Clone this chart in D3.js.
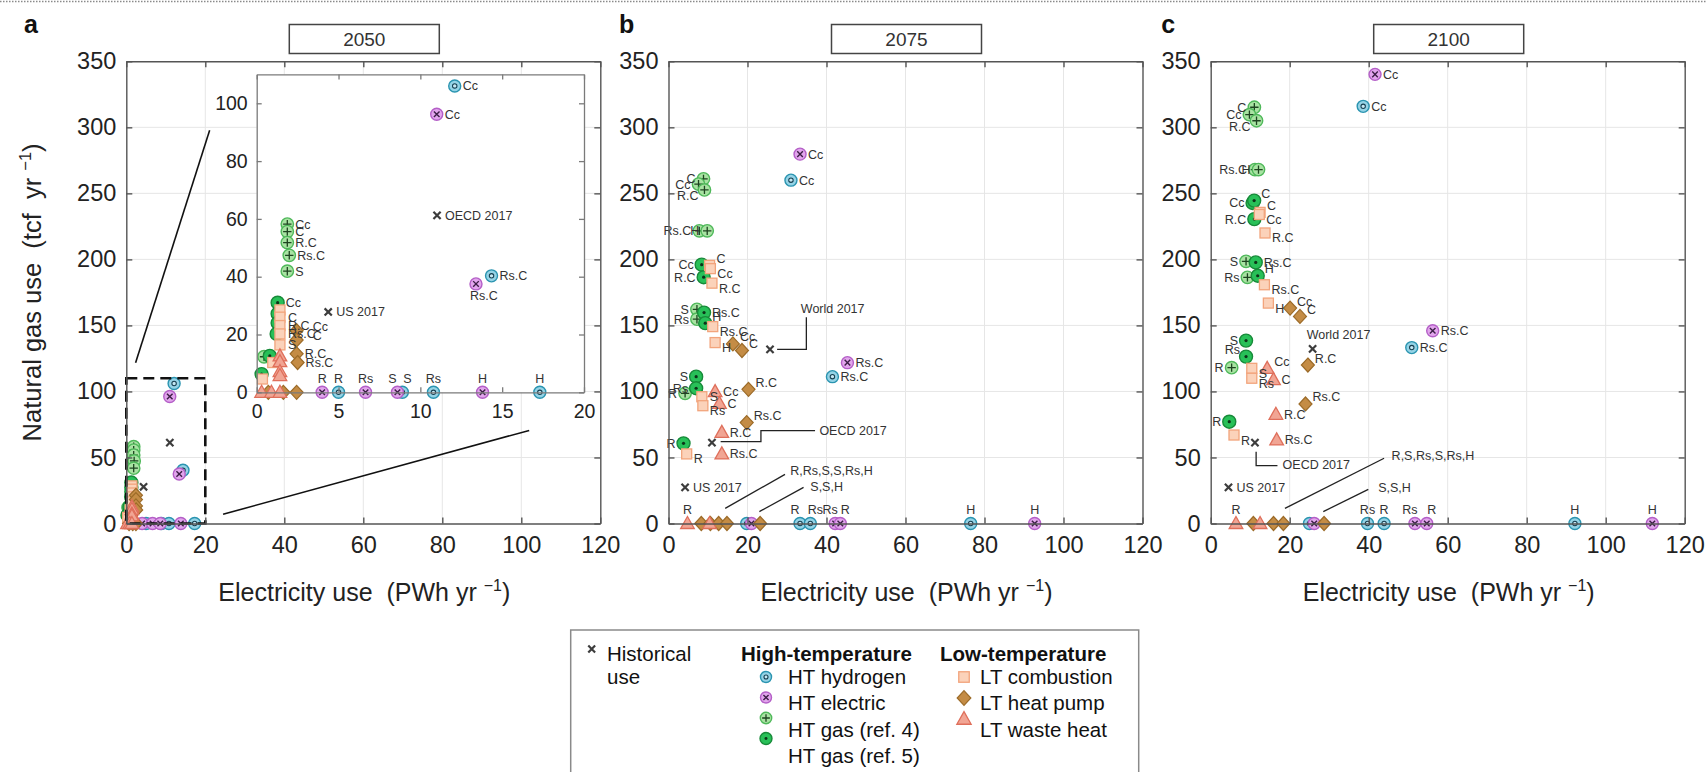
<!DOCTYPE html>
<html>
<head>
<meta charset="utf-8">
<script src="https://cdn.jsdelivr.net/npm/d3@7/dist/d3.min.js"></script>
<style>
  html, body { margin: 0; padding: 0; background: #fff; }
  svg text { font-family: "Liberation Sans", Arial, Helvetica, sans-serif; white-space: pre; }
</style>
</head>
<body>
<svg id="fig" width="1707" height="772"></svg>
<script>
// ---------------------------------------------------------------
// Values: [electricity use (PWh/yr), natural gas use (tcf/yr), label]
// ---------------------------------------------------------------
const years = ['2050', '2075', '2100'];
const panelLetters = ['a', 'b', 'c'];
const xTicks = [0, 20, 40, 60, 80, 100, 120];
const yTicks = [0, 50, 100, 150, 200, 250, 300, 350];
const insetXTicks = [0, 5, 10, 15, 20];
const insetYTicks = [0, 20, 40, 60, 80, 100];

// 2050
const hydrogen2050   = [[12.1,106,'Cc'],[14.35,40.3,'Rs.C'],[5.0,0,'R'],[8.9,0,'S'],[10.8,0,'Rs'],[17.3,0,'H']];
const electric2050   = [[11.0,96.2,'Cc'],[13.4,37.5,'Rs.C'],[4.0,0,'R'],[6.65,0,'Rs'],[8.6,0,'S'],[13.8,0,'H']];
const gasRef4_2050   = [[1.87,58.2,'Cc'],[1.87,55.6,'C'],[1.87,51.8,'R.C'],[1.99,47.4,'Rs.C'],[1.87,41.9,'S'],[0.45,12.3,'']];
const gasRef5_2050   = [[1.28,31,'Cc'],[1.28,27.2,''],[1.28,24,''],[1.22,20.2,''],[0.8,12.6,''],[0.3,6.3,'']];
const combustion2050 = [[1.42,28.5,''],[1.42,26,'C'],[1.42,23.1,'R.C'],[1.42,20.2,'Rs.C'],[1.42,16.4,'S'],[0.98,10.3,''],[0.35,4.6,'']];
const heatPump2050   = [[2.44,21.3,'Cc'],[2.44,18.1,'C'],[2.44,13.3,'R.C'],[2.5,10.3,'Rs.C'],[0.71,0,''],[1.63,0,''],[2.44,0,'']];
const wasteHeat2050  = [[1.42,12.6,''],[1.42,10.6,''],[1.42,7.2,''],[1.42,5.8,''],[0.3,0,''],[0.9,0,''],[1.42,0,'']];
const historical2050 = [[4.37,27.8,'US 2017'],[11.02,61.2,'OECD 2017']];

// 2075
const hydrogen2075   = [[31.0,260,'Cc'],[41.5,111.2,'Rs.C'],[19.8,0,''],[33.3,0,'R'],[35.9,0,'Rs'],[76.5,0,'H']];
const electric2075   = [[33.3,279.7,'Cc'],[45.3,121.8,'Rs.C'],[21.0,0,''],[42.2,0,'Rs'],[43.5,0,'R'],[92.7,0,'H']];
const gasRef4_2075   = [[8.86,261,'C'],[7.6,257,'Cc'],[9.1,252.6,'R.C'],[7.8,221.6,'Rs.C'],[9.8,221.6,'H'],[7.2,162.2,'S'],[7.2,154.7,'Rs'],[4.2,98.6,'R']];
const gasRef5_2075   = [[8.4,196,'Cc'],[8.9,186.5,'R.C'],[9.0,159.7,'Rs.C'],[9.3,151.7,'H'],[7.0,111.2,'S'],[7.0,102.4,'Rs'],[3.8,60.7,'R']];
const combustion2075 = [[10.4,195.5,'C'],[10.6,193,'Cc'],[11.0,182,'R.C'],[11.2,149.1,'Rs.C'],[11.8,137,'H'],[8.44,96,'S'],[8.7,89.2,'Rs'],[4.6,52.7,'R']];
const heatPump2075   = [[16.3,136,'Cc'],[18.6,131,'C'],[20.25,101.6,'R.C'],[19.8,76.4,'Rs.C'],[8.3,0,''],[10.6,0,''],[12.7,0,''],[14.8,0,''],[23.2,0,'']];
const wasteHeat2075  = [[11.8,99.9,'Cc'],[12.9,91,'C'],[13.5,69,'R.C'],[13.5,52.7,'Rs.C'],[4.8,0,'R'],[10.4,0,'']];
const historical2075 = [[25.7,131.9,'World 2017'],[11.0,61.2,'OECD 2017'],[4.2,27.4,'US 2017']];

// 2100
const hydrogen2100   = [[38.6,315.9,'Cc'],[50.9,133.2,'Rs.C'],[25.0,0,''],[39.7,0,'Rs'],[43.9,0,'R'],[92.2,0,'H']];
const electric2100   = [[41.6,340.1,'Cc'],[56.2,146,'Rs.C'],[26.2,0,''],[51.7,0,'Rs'],[54.7,0,'R'],[111.8,0,'H']];
const gasRef4_2100   = [[11.05,315.2,'C'],[9.8,309.6,'Cc'],[11.6,305,'R.C'],[11.2,268,'Rs.C'],[12.1,268,'H'],[8.95,198.5,'S'],[9.3,186.4,'Rs'],[5.3,118,'R']];
const gasRef5_2100   = [[10.6,242.7,'Cc'],[11.0,244.5,'C'],[11.05,230.5,'R.C'],[11.4,197.7,'Rs.C'],[11.9,187.6,'H'],[8.95,138.5,'S'],[8.95,126.4,'Rs'],[4.7,77.1,'R']];
const combustion2100 = [[12.5,235.6,'C'],[12.3,234,'Cc'],[13.75,220,'R.C'],[13.6,180.8,'Rs.C'],[14.6,166.9,'H'],[10.4,117.5,'S'],[10.4,110,'Rs'],[5.9,67,'R']];
const heatPump2100   = [[20.1,163.1,'Cc'],[22.6,156.8,'C'],[24.6,120,'R.C'],[24.0,90.5,'Rs.C'],[10.8,0,''],[15.9,0,''],[18.4,0,''],[28.7,0,'']];
const wasteHeat2100  = [[14.3,117.5,'Cc'],[15.9,109,'C'],[16.5,82.7,'R.C'],[16.7,63.3,'Rs.C'],[6.4,0,'R'],[12.5,0,'']];
const historical2100 = [[25.8,132.2,'World 2017'],[11.2,61.2,'OECD 2017'],[4.5,27.4,'US 2017']];

// Grouped labels for crowded points on the x axis
const groupLabels2075 = ['R,Rs,S,S,Rs,H', 'S,S,H'];
const groupLabels2100 = ['R,S,Rs,S,Rs,H', 'S,S,H'];

// ---------------------------------------------------------------
// Label placement (side of each point label) and callout geometry
// ---------------------------------------------------------------
const sides2050 = {
  hydrogen: ['r','r','t','tr','t','t'],
  electric: ['r','b','t','t','tl','t'],
  heatPump: ['r2','r2','r','r'],
};
const sides2075 = {
  hydrogen: ['r','r','t','tl','tr','t'],
  electric: ['r','r','t','tl','tr','t'],
  gasRef4: ['l','l','ld','l','l','l','l','l'],
  gasRef5: ['l','l','r','ru','l','l','l'],
  combustion: ['ru','rd','rd','rd','rd','r','rd','rd'],
  heatPump: ['ru','ru','ru','ru'],
  wasteHeat: ['r','r','r','r','t'],
  historical: ['callout','callout','r'],
};
const sides2100 = {
  hydrogen: ['r','r','t','t','t','t'],
  electric: ['r','r','t','tl','tr','t'],
  gasRef4: ['l','l','ld','l','l','l','l','l'],
  gasRef5: ['l','ru','l','r','ru','l','lu','l'],
  combustion: ['ru','rd','rd','rd','rd','rd','rd','rd'],
  heatPump: ['ru','ru','ru','ru'],
  wasteHeat: ['ru','r','r','r','t'],
  historical: ['callout','callout','r'],
};
// leader lines in data units: path points and text start [x, y-centre]
const callouts2075 = [
  { text: historical2075[0][2], path: [[27.5,131.9],[34.9,131.9],[34.9,156.2]], at: [33.5,163] },
  { text: historical2075[1][2], path: [[13.2,62],[23.4,62],[23.4,70.3],[37.1,70.3]], at: [38.2,70.3] },
  { text: groupLabels2075[0], path: [[14.35,11.5],[29.5,37.2]], at: [30.8,40] },
  { text: groupLabels2075[1], path: [[23.0,9],[34.2,27.4]], at: [35.9,27.9] },
];
const callouts2100 = [
  { text: historical2100[0][2], path: [], at: [24.3,142.8] },
  { text: historical2100[1][2], path: [[11.5,54.4],[11.5,43.8],[16.9,43.8]], at: [18.2,44.6] },
  { text: groupLabels2100[0], path: [[18.8,11.5],[43.9,49.4]], at: [45.8,51.1] },
  { text: groupLabels2100[1], path: [[28.5,9],[39.9,25.9]], at: [42.4,27.2] },
];

const panels = [
  { year: years[0], letter: panelLetters[0], inset: true, sides: sides2050, callouts: [],
    series: { hydrogen: hydrogen2050, electric: electric2050, gasRef4: gasRef4_2050, gasRef5: gasRef5_2050,
              combustion: combustion2050, heatPump: heatPump2050, wasteHeat: wasteHeat2050, historical: historical2050 } },
  { year: years[1], letter: panelLetters[1], inset: false, sides: sides2075, callouts: callouts2075,
    series: { hydrogen: hydrogen2075, electric: electric2075, gasRef4: gasRef4_2075, gasRef5: gasRef5_2075,
              combustion: combustion2075, heatPump: heatPump2075, wasteHeat: wasteHeat2075, historical: historical2075 } },
  { year: years[2], letter: panelLetters[2], inset: false, sides: sides2100, callouts: callouts2100,
    series: { hydrogen: hydrogen2100, electric: electric2100, gasRef4: gasRef4_2100, gasRef5: gasRef5_2100,
              combustion: combustion2100, heatPump: heatPump2100, wasteHeat: wasteHeat2100, historical: historical2100 } },
];
const seriesOrder = ['hydrogen','electric','gasRef4','gasRef5','combustion','heatPump','wasteHeat','historical'];

// ---------------------------------------------------------------
// Layout
// ---------------------------------------------------------------
const W = 1707, H = 772;
const L = { left0: 126.3, step: 542.2, width: 474, top: 61.3, bottom: 523.5 };
const insetBox = { left: 256.7, right: 584, top: 74.4, bottom: 392.3 };
const insetDomainX = [0, 20], insetDomainY = [0, 110];
const zoomConnectors = [[[2.35,121.8],[21.1,297.7]], [[24.5,7],[102,70.5]]];
const FONT = '"Liberation Sans", Arial, Helvetica, sans-serif';

const labelOffsets = {
  r:  { dx: 8,  dy: 4.5, anchor: 'start' },
  r2: { dx: 16, dy: 0,   anchor: 'start' },
  ru: { dx: 7,  dy: -2.5, anchor: 'start' },
  rd: { dx: 7,  dy: 9.5, anchor: 'start' },
  l:  { dx: -8, dy: 4.5, anchor: 'end' },
  lu: { dx: -6, dy: -2.5, anchor: 'end' },
  ld: { dx: -6, dy: 10,  anchor: 'end' },
  t:  { dx: 0,  dy: -9.5, anchor: 'middle' },
  tl: { dx: -5, dy: -9.5, anchor: 'middle' },
  tr: { dx: 5,  dy: -9.5, anchor: 'middle' },
  b:  { dx: 8,  dy: 16.5, anchor: 'middle' },
};

const svg = d3.select('#fig');

// dotted rule along the top edge
svg.append('line').attr('x1', 0).attr('x2', W).attr('y1', 1.5).attr('y2', 1.5)
  .attr('stroke', '#8a8a8a').attr('stroke-width', 1.5).attr('stroke-dasharray', '1.5,1.5');

// ---------------------------------------------------------------
// Marker glyphs
// ---------------------------------------------------------------
function drawMarker(g, type, k = 1) {
  switch (type) {
    case 'hydrogen':
      g.append('circle').attr('r', 6 * k).attr('fill', '#94d3e6').attr('stroke', '#2a94b0').attr('stroke-width', 1.4);
      g.append('circle').attr('r', 2.2 * k).attr('fill', '#c4e8f3').attr('stroke', '#163f50').attr('stroke-width', 1.1);
      break;
    case 'electric': {
      g.append('circle').attr('r', 6 * k).attr('fill', '#e2a5ed').attr('stroke', '#b45fc7').attr('stroke-width', 1.4);
      const a = 2.8 * k;
      g.append('path').attr('d', `M${-a},${-a}L${a},${a}M${-a},${a}L${a},${-a}`)
        .attr('stroke', '#3b1e45').attr('stroke-width', 1.4);
      break;
    }
    case 'gasRef4': {
      g.append('circle').attr('r', 6.2 * k).attr('fill', '#a8e3a2').attr('stroke', '#4fb85a').attr('stroke-width', 1.4);
      const a = 4.2 * k;
      g.append('path').attr('d', `M${-a},0H${a}M0,${-a}V${a}`).attr('stroke', '#1d4420').attr('stroke-width', 1.3);
      break;
    }
    case 'gasRef5':
      g.append('circle').attr('r', 6.5 * k).attr('fill', '#28c058').attr('stroke', '#178a39').attr('stroke-width', 1.4);
      g.append('circle').attr('r', 1.6 * k).attr('fill', '#0c3318');
      break;
    case 'combustion':
      g.append('rect').attr('x', -5 * k).attr('y', -5 * k).attr('width', 10 * k).attr('height', 10 * k)
        .attr('fill', '#fbd2ba').attr('stroke', '#f2a47c').attr('stroke-width', 1.3);
      break;
    case 'heatPump':
      g.append('path').attr('d', `M0,${-7*k}L${6.5*k},0L0,${7*k}L${-6.5*k},0Z`)
        .attr('fill', '#c48c45').attr('stroke', '#9c6b28').attr('stroke-width', 1.2);
      break;
    case 'wasteHeat':
      g.append('path').attr('d', `M0,${-7*k}L${6.8*k},${5*k}L${-6.8*k},${5*k}Z`)
        .attr('fill', '#f1a594').attr('stroke', '#df6f5b').attr('stroke-width', 1.3);
      break;
    case 'historical': {
      const a = 3.6 * k;
      g.append('path').attr('d', `M${-a},${-a}L${a},${a}M${-a},${a}L${a},${-a}`)
        .attr('stroke', '#3d3d3d').attr('stroke-width', 2.2);
      break;
    }
  }
}

function drawSeries(g, p, x, y, withLabels) {
  const mg = g.append('g');
  seriesOrder.forEach(key => {
    mg.append('g').selectAll('g').data(p.series[key]).join('g')
      .attr('transform', d => `translate(${x(d[0])},${y(d[1])})`)
      .each(function () { drawMarker(d3.select(this), key); });
  });
  if (!withLabels) return;
  const lg = g.append('g').attr('font-size', 12.5).attr('fill', '#333');
  seriesOrder.forEach(key => {
    const sides = p.sides[key] || [];
    const items = p.series[key].map((d, j) => ({ d, side: sides[j] || 'r' }))
      .filter(o => o.d[2] && o.side !== 'callout');
    lg.append('g').selectAll('text').data(items).join('text')
      .attr('x', o => x(o.d[0]) + labelOffsets[o.side].dx)
      .attr('y', o => y(o.d[1]) + labelOffsets[o.side].dy)
      .attr('text-anchor', o => labelOffsets[o.side].anchor)
      .text(o => o.d[2]);
  });
}

// box axes with inward ticks on all four sides
function boxAxes(g, x, y, xt, yt, o) {
  const [x0, x1] = x.range(), [y0, y1] = y.range();
  const style = sel => {
    sel.attr('color', o.color).attr('font-family', FONT).attr('font-size', o.fs);
    sel.selectAll('path.domain').attr('stroke-width', o.sw);
    sel.selectAll('.tick line').attr('stroke-width', o.sw);
    sel.selectAll('text').attr('fill', '#222');
  };
  g.append('g').attr('transform', `translate(0,${y0})`)
    .call(d3.axisBottom(x).tickValues(xt).tickSize(-o.tick).tickSizeOuter(0).tickPadding(o.padX)).call(style);
  g.append('g').attr('transform', `translate(0,${y1})`)
    .call(d3.axisTop(x).tickValues(xt).tickSize(-o.tick).tickSizeOuter(0).tickFormat(() => '')).call(style);
  g.append('g').attr('transform', `translate(${x0},0)`)
    .call(d3.axisLeft(y).tickValues(yt).tickSize(-o.tick).tickSizeOuter(0).tickPadding(o.padY)).call(style);
  g.append('g').attr('transform', `translate(${x1},0)`)
    .call(d3.axisRight(y).tickValues(yt).tickSize(-o.tick).tickSizeOuter(0).tickFormat(() => '')).call(style);
}

function addUnitTitle(sel, base, supSize) {
  sel.append('tspan').text(base);
  sel.append('tspan').attr('font-size', supSize).attr('dy', -10).text('−1');
  sel.append('tspan').attr('dy', 10).text(')');
}

// ---------------------------------------------------------------
// Panels
// ---------------------------------------------------------------
panels.forEach((p, i) => {
  const left = L.left0 + i * L.step;
  const x = d3.scaleLinear().domain([xTicks[0], xTicks[xTicks.length - 1]]).range([left, left + L.width]);
  const y = d3.scaleLinear().domain([yTicks[0], yTicks[yTicks.length - 1]]).range([L.bottom, L.top]);
  const g = svg.append('g');

  // grid
  g.append('g').selectAll('line').data(xTicks.slice(1, -1)).join('line')
    .attr('x1', d => x(d)).attr('x2', d => x(d)).attr('y1', L.top).attr('y2', L.bottom)
    .attr('stroke', '#e6e6e6').attr('stroke-width', 1);
  g.append('g').selectAll('line').data(yTicks.slice(1, -1)).join('line')
    .attr('x1', left).attr('x2', left + L.width).attr('y1', d => y(d)).attr('y2', d => y(d))
    .attr('stroke', '#e6e6e6').attr('stroke-width', 1);

  drawSeries(g, p, x, y, !p.inset);

  // callouts with leader lines
  const cg = g.append('g');
  p.callouts.forEach(c => {
    if (c.path.length) {
      cg.append('path').attr('d', d3.line().x(d => x(d[0])).y(d => y(d[1]))(c.path))
        .attr('fill', 'none').attr('stroke', '#222').attr('stroke-width', 1.3);
    }
    cg.append('text').attr('x', x(c.at[0])).attr('y', y(c.at[1])).attr('dy', '0.35em')
      .attr('font-size', 12.5).attr('fill', '#333').text(c.text);
  });

  if (p.inset) {
    // zoom window and connectors
    g.append('rect')
      .attr('x', x(insetDomainX[0])).attr('y', y(insetDomainY[1]))
      .attr('width', x(insetDomainX[1]) - x(insetDomainX[0]))
      .attr('height', y(insetDomainY[0]) - y(insetDomainY[1]))
      .attr('fill', 'none').attr('stroke', '#111').attr('stroke-width', 2.6).attr('stroke-dasharray', '11,6');
    zoomConnectors.forEach(seg => {
      g.append('line').attr('x1', x(seg[0][0])).attr('y1', y(seg[0][1]))
        .attr('x2', x(seg[1][0])).attr('y2', y(seg[1][1]))
        .attr('stroke', '#111').attr('stroke-width', 1.6);
    });
    // inset
    const xi = d3.scaleLinear().domain(insetDomainX).range([insetBox.left, insetBox.right]);
    const yi = d3.scaleLinear().domain(insetDomainY).range([insetBox.bottom, insetBox.top]);
    const ig = g.append('g');
    ig.append('rect').attr('x', insetBox.left).attr('y', insetBox.top)
      .attr('width', insetBox.right - insetBox.left).attr('height', insetBox.bottom - insetBox.top)
      .attr('fill', '#fff');
    drawSeries(ig, p, xi, yi, true);
    boxAxes(ig, xi, yi, insetXTicks, insetYTicks, { tick: 5, padX: 12, padY: 9, fs: 19.5, color: '#7a7a7a', sw: 1.3 });
  }

  boxAxes(g, x, y, xTicks, yTicks, { tick: 6, padX: 13, padY: 10, fs: 23.5, color: '#555', sw: 1.4 });

  // year title box
  const cx = left + L.width / 2 + 1;
  g.append('rect').attr('x', cx - 75).attr('y', 24.5).attr('width', 150).attr('height', 29)
    .attr('fill', '#fff').attr('stroke', '#444').attr('stroke-width', 1.5);
  g.append('text').attr('x', cx).attr('y', 46).attr('text-anchor', 'middle')
    .attr('font-size', 19).attr('fill', '#333').text(p.year);

  // panel letter
  g.append('text').attr('x', i === 0 ? 24 : left - 49.5).attr('y', 33)
    .attr('font-size', 25).attr('font-weight', 'bold').attr('fill', '#111').text(p.letter);

  // x-axis title
  g.append('text').attr('x', cx).attr('y', 601).attr('text-anchor', 'middle')
    .attr('font-size', 25).attr('fill', '#222')
    .call(addUnitTitle, 'Electricity use  (PWh yr ', 16);
});

// y-axis title
svg.append('text').attr('transform', `translate(41,${(L.top + L.bottom) / 2}) rotate(-90)`)
  .attr('text-anchor', 'middle').attr('font-size', 25.5).attr('fill', '#222')
  .call(addUnitTitle, 'Natural gas use  (tcf  yr ', 16.5);

// ---------------------------------------------------------------
// Legend
// ---------------------------------------------------------------
const legendHigh = [['hydrogen','HT hydrogen'],['electric','HT electric'],['gasRef4','HT gas (ref. 4)'],['gasRef5','HT gas (ref. 5)']];
const legendLow = [['combustion','LT combustion'],['heatPump','LT heat pump'],['wasteHeat','LT waste heat']];
const lg = svg.append('g').attr('font-size', 20.5).attr('fill', '#111');
lg.append('rect').attr('x', 570.7).attr('y', 630).attr('width', 568).attr('height', 160)
  .attr('fill', 'none').attr('stroke', '#8a8a8a').attr('stroke-width', 1.5);
drawMarker(lg.append('g').attr('transform', 'translate(591.7,649)'), 'historical', 0.95);
lg.append('text').attr('x', 607).attr('y', 661).text('Historical');
lg.append('text').attr('x', 607).attr('y', 683.5).text('use');
lg.append('text').attr('x', 741).attr('y', 661).attr('font-weight', 'bold').text('High-temperature');
legendHigh.forEach(([k, t], j) => {
  drawMarker(lg.append('g').attr('transform', `translate(766,${677 + j * 20.5})`), k, 0.92);
  lg.append('text').attr('x', 788).attr('y', 684 + j * 26.4).text(t);
});
lg.append('text').attr('x', 940).attr('y', 661).attr('font-weight', 'bold').text('Low-temperature');
legendLow.forEach(([k, t], j) => {
  drawMarker(lg.append('g').attr('transform', `translate(964,${677 + j * 21})`), k, 1.05);
  lg.append('text').attr('x', 980).attr('y', 684 + j * 26.4).text(t);
});
</script>
</body>
</html>
